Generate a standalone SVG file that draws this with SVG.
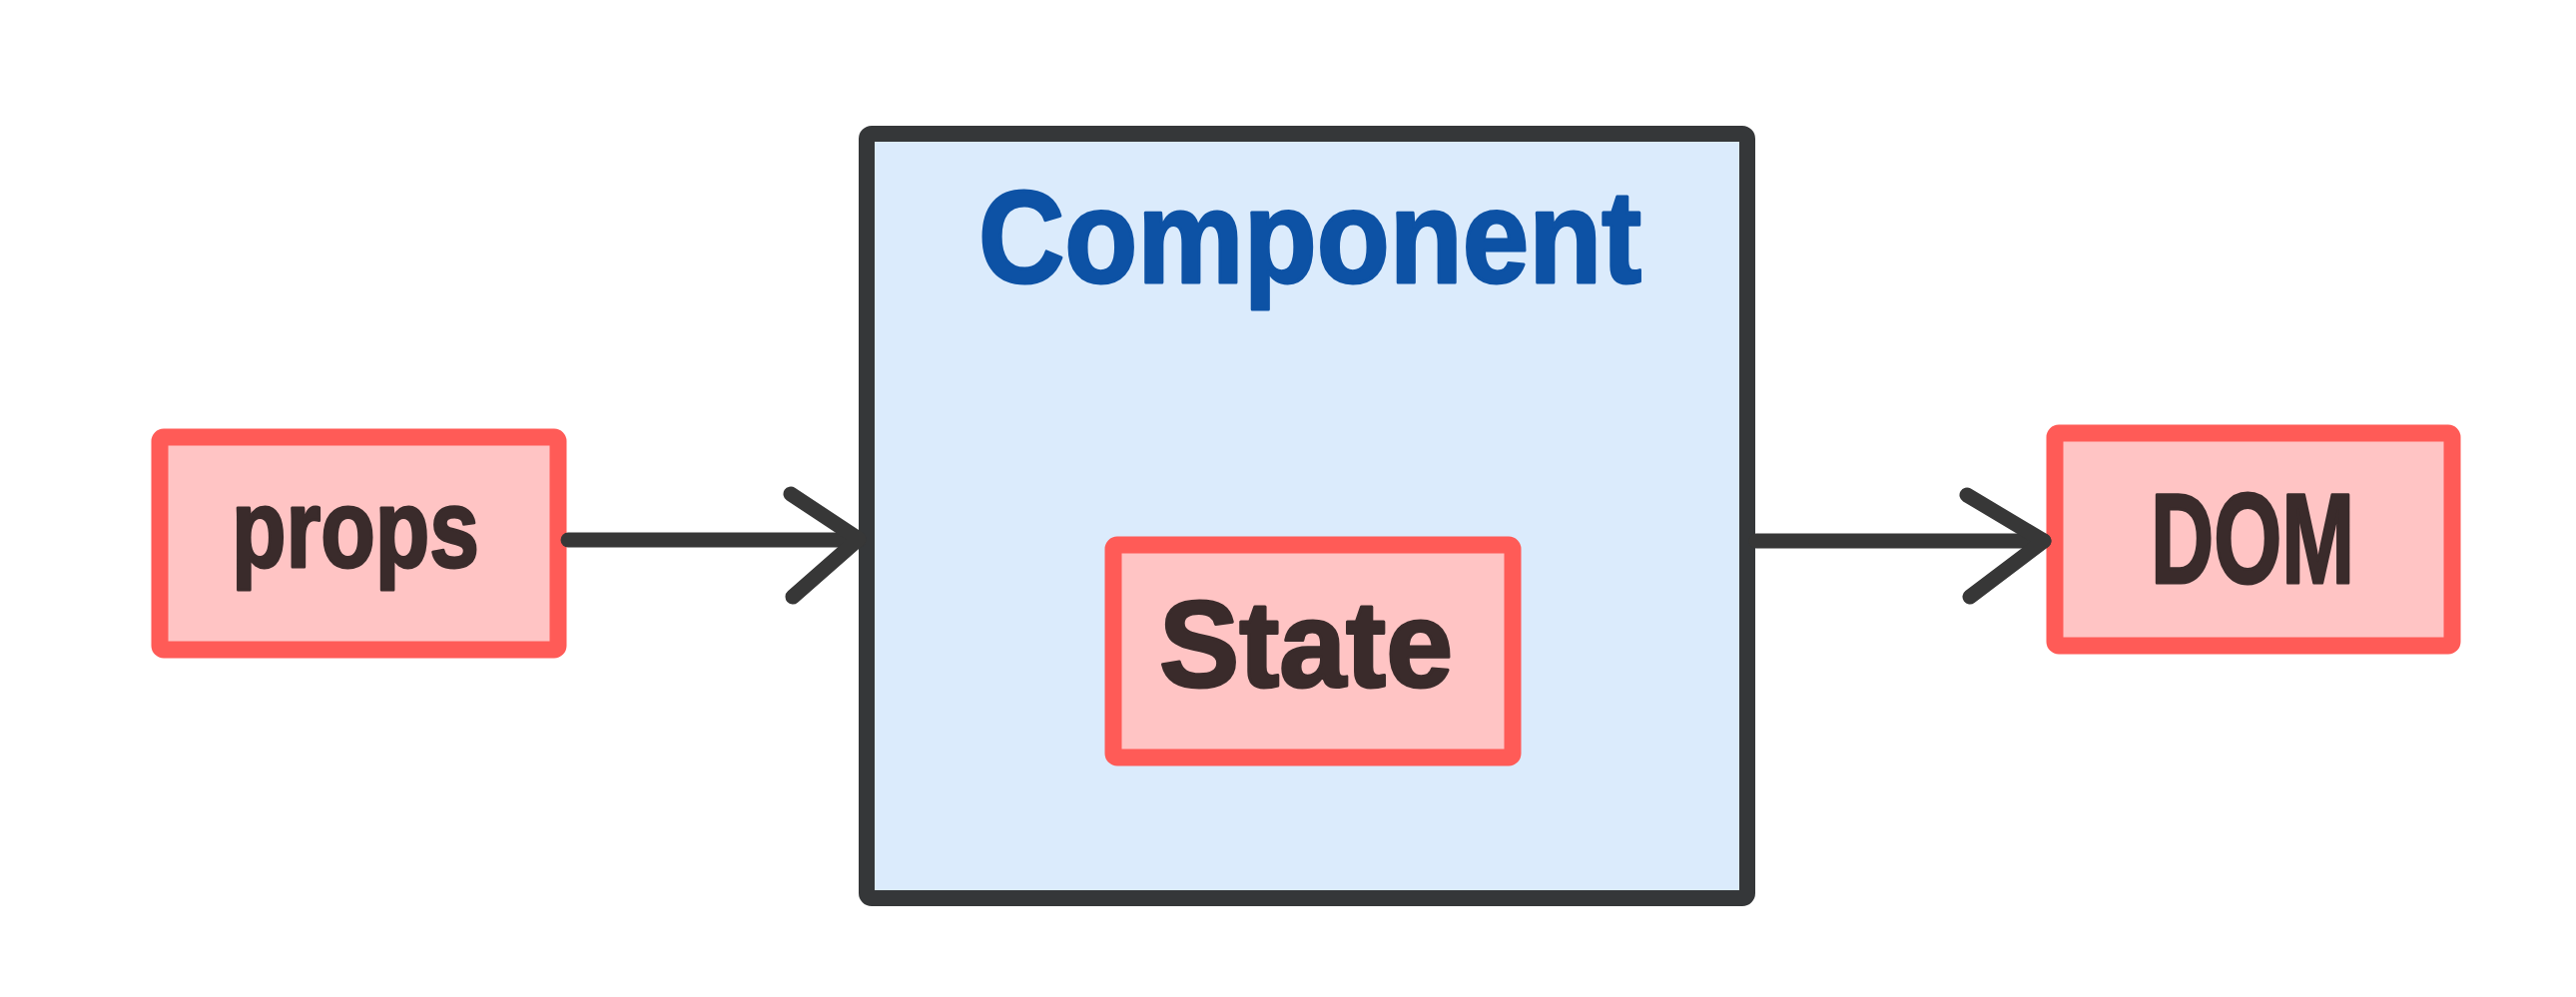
<svg xmlns="http://www.w3.org/2000/svg" width="2580" height="999" viewBox="0 0 2580 999">
<style>
.bg{fill:#ffffff}
.red{fill:#ffc4c4;stroke:#ff5b57;stroke-width:17;stroke-linejoin:round}
.comp{fill:#dbebfc;stroke:#353739;stroke-width:16;stroke-linejoin:round}
.lbl{font-family:"Liberation Sans",Arial,sans-serif;font-weight:bold;fill:#3a2b2b;stroke:#3a2b2b;stroke-width:3;stroke-linejoin:round;text-anchor:middle}
.title{font-family:"Liberation Sans",Arial,sans-serif;font-weight:bold;fill:#0d52a5;stroke:#0d52a5;stroke-width:3;stroke-linejoin:round;text-anchor:middle}
.conn{fill:none;stroke:#373737;stroke-width:15;stroke-linecap:round;stroke-linejoin:round}
</style>
<rect class="bg" x="0" y="0" width="2580" height="999"/>
<g id="component">
<rect class="comp" x="868" y="134" width="882" height="766" rx="5"/>
<text class="title" x="1312" y="283" font-size="132" textLength="664" lengthAdjust="spacingAndGlyphs">Component</text>
</g>
<g id="state">
<rect class="red" x="1115" y="546" width="400" height="213" rx="4"/>
<text class="lbl" x="1308" y="688" font-size="122" textLength="294" lengthAdjust="spacingAndGlyphs">State</text>
</g>
<g id="props">
<rect class="red" x="160" y="438" width="399" height="213" rx="4"/>
<text class="lbl" x="356" y="568" font-size="112" textLength="248" lengthAdjust="spacingAndGlyphs">props</text>
</g>
<g id="dom">
<rect class="red" x="2058" y="434" width="398" height="213" rx="4"/>
<text class="lbl" x="2256" y="584" font-size="128" textLength="204" lengthAdjust="spacingAndGlyphs">DOM</text>
</g>
<g id="connectors">
<path class="conn" d="M569 541 L860 541"/>
<path class="conn" d="M792 495 L860 540 L794 598"/>
<path class="conn" d="M1759 542 L2047 542"/>
<path class="conn" d="M1970 496 L2047 542 L1973 598"/>
</g>
</svg>
